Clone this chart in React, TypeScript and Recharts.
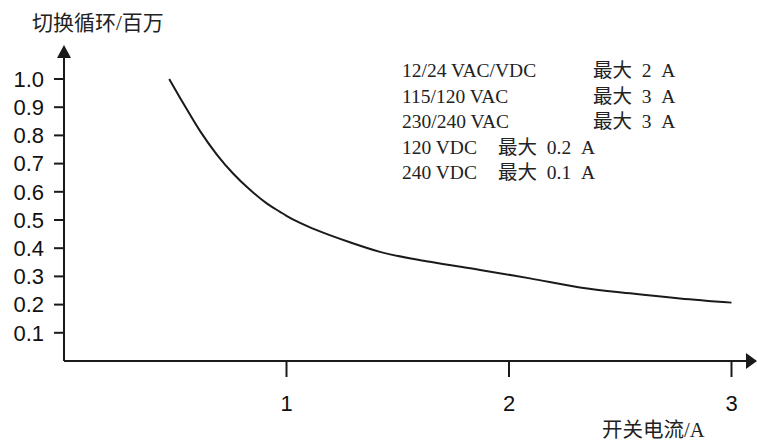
import { LineChart, Line, XAxis, YAxis, Customized } from "recharts";

const currentA = [0.473, 0.536, 0.611, 0.686, 0.761, 0.836, 0.911, 0.971, 1.0, 1.061, 1.136, 1.285, 1.42, 1.645, 1.87, 2.02, 2.094, 2.319, 2.544, 2.768, 3.0];
const cyclesM = [1.0, 0.914, 0.816, 0.733, 0.664, 0.607, 0.559, 0.529, 0.515, 0.49, 0.464, 0.421, 0.387, 0.352, 0.323, 0.303, 0.293, 0.261, 0.24, 0.222, 0.207];

const xTicks = [1, 2, 3];
const yTicks = [0.1, 0.2, 0.3, 0.4, 0.5, 0.6, 0.7, 0.8, 0.9, 1.0];

const yTitle = "切换循环/百万";
const xTitle = "开关电流/A";

const legendVoltages = ["12/24 VAC/VDC", "115/120 VAC", "230/240 VAC", "120 VDC", "240 VDC"];
const legendLimits = ["最大  2  A", "最大  3  A", "最大  3  A", "最大  0.2  A", "最大  0.1  A"];

const data = currentA.map((x, i) => ({ x, y: cyclesM[i] }));

const W = 757;
const H = 443;
const LEFT = 64;
const RIGHT = 747;
const TOP = 57;
const BOTTOM = 361;
const INK = "#1a1a1a";
const SANS = "'Liberation Sans', Arial, sans-serif";
const CJK = "'Liberation Serif', 'Noto Sans CJK SC', serif";

function Overlay() {
  return (
    <g>
      {/* axis arrows */}
      <polygon points={`${LEFT},${TOP - 12} ${LEFT - 7},${TOP + 1} ${LEFT + 7},${TOP + 1}`} fill={INK} />
      <polygon points={`${W},${BOTTOM} ${RIGHT - 1},${BOTTOM - 8} ${RIGHT - 1},${BOTTOM + 8}`} fill={INK} />
      <text x={32} y={30} fontFamily={CJK} fontSize={21} fill="#222">
        {yTitle}
      </text>
      <text x={602} y={437} fontFamily={CJK} fontSize={20.5} fill="#222">
        {xTitle}
      </text>
      {legendVoltages.map((v, i) => {
        const y = 77 + i * 25.5;
        return (
          <text key={v} y={y} fontFamily={CJK} fontSize={19.5} fill="#222" style={{ whiteSpace: "pre" }}>
            <tspan x={402}>{v}</tspan>
            <tspan x={i < 3 ? 593 : 498}>{legendLimits[i]}</tspan>
          </text>
        );
      })}
    </g>
  );
}

export default function App() {
  return (
    <div style={{ position: "absolute", left: 0, top: 0, background: "#fff" }}>
      <LineChart
        width={W}
        height={H}
        data={data}
        margin={{ top: TOP, right: W - RIGHT, bottom: H - BOTTOM - 40, left: 0 }}
      >
        <XAxis
          type="number"
          dataKey="x"
          domain={[0, (RIGHT - LEFT) / 222.5]}
          ticks={xTicks}
          interval={0}
          height={40}
          tickSize={16}
          tickMargin={18}
          axisLine={{ stroke: INK, strokeWidth: 2 }}
          tickLine={{ stroke: INK, strokeWidth: 2 }}
          tick={{ fill: "#111", fontSize: 22, fontFamily: SANS }}
        />
        <YAxis
          type="number"
          dataKey="y"
          domain={[0, (BOTTOM - TOP) / 282]}
          ticks={yTicks}
          interval={0}
          width={LEFT}
          tickSize={10}
          tickMargin={10}
          tickFormatter={(v: number) => v.toFixed(1)}
          axisLine={{ stroke: INK, strokeWidth: 2 }}
          tickLine={{ stroke: INK, strokeWidth: 2 }}
          tick={{ fill: "#111", fontSize: 22, fontFamily: SANS }}
        />
        <Line
          type="monotone"
          dataKey="y"
          stroke={INK}
          strokeWidth={2}
          dot={false}
          isAnimationActive={false}
        />
        <Customized component={Overlay} />
      </LineChart>
    </div>
  );
}
